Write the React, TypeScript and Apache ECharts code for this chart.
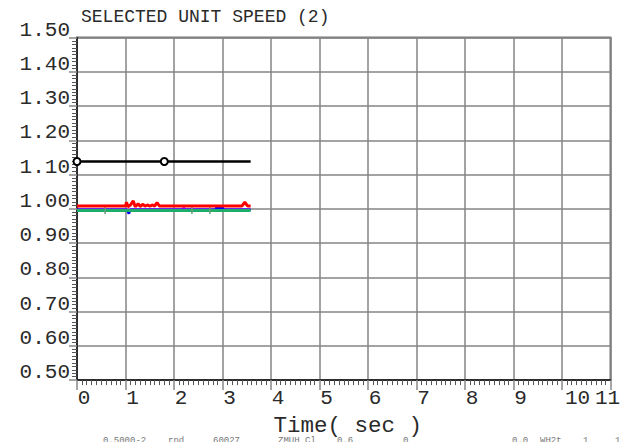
import React, { useEffect, useRef } from "react";
import * as echarts from "echarts";

const titleText = "SELECTED UNIT SPEED (2)";
const xAxisName = "Time( sec )";
const xMin = 0;
const xMax = 11;
const yMin = 0.5;
const yMax = 1.5;

// black reference line (with open circle markers)
const blackX = [0, 1.8, 3.58];
const blackY = [1.138, 1.138, 1.138];
const blackMarker = [true, true, false];

// red trace
const redX = [0, 1.0, 1.02, 1.05, 1.1, 1.16, 1.2, 1.26, 1.3, 1.36, 1.4, 1.46, 1.5, 1.56, 1.6, 1.65, 1.7, 3.4, 3.46, 3.52, 3.58];
const redY = [1.008, 1.008, 1.019, 1.006, 1.011, 1.023, 1.006, 1.015, 1.007, 1.013, 1.008, 1.011, 1.008, 1.011, 1.008, 1.018, 1.008, 1.008, 1.019, 1.008, 1.008];

// green trace
const greenX = [0, 0.58, 2.37, 2.74, 3.58];
const greenY = [0.995, 0.995, 0.995, 0.995, 0.995];
const greenMarker = [false, true, true, true, false];

// blue trace
const blueX = [0, 1.03, 1.07, 1.1, 2.86, 2.88, 2.91, 2.94, 2.97, 3.0, 3.02, 3.58];
const blueY = [0.997, 0.997, 0.986, 0.997, 0.997, 1.006, 0.992, 1.006, 0.992, 1.006, 0.997, 0.997];

// magenta trace
const magentaX = [0, 2.18, 2.2, 2.22, 3.58];
const magentaY = [0.998, 0.998, 1.006, 0.998, 0.998];

const footerTexts = ["0.5000-2", "rnd", "60027", "ZMUH Cl", "0.6", "0", "0.0", "WH2t", "1", "1"];
const footerX = [103, 168, 213, 278, 337, 403, 512, 540, 583, 615];

const MONO = "'Liberation Mono', 'Courier New', 'DejaVu Sans Mono', monospace";
const TXT = "#2a2a2a";

function pairs(xs: number[], ys: number[]) {
  return xs.map((x, i) => [x, ys[i]]);
}

export default function App() {
  const ref = useRef<HTMLDivElement>(null);
  useEffect(() => {
    if (!ref.current) return;
    const chart = echarts.init(ref.current, undefined, { renderer: "svg" });
    const richX: any = {
      s: { padding: [0, 0, 0, 14], fontFamily: MONO, fontSize: 21, color: TXT },
      d: { padding: [0, 0, 0, 31], fontFamily: MONO, fontSize: 21, color: TXT },
      e: { padding: [0, 6, 0, 0], fontFamily: MONO, fontSize: 21, color: TXT },
    };
    chart.setOption({
      animation: false,
      backgroundColor: "#ffffff",
      title: {
        text: titleText,
        left: 76,
        top: 3,
        textStyle: { fontFamily: MONO, fontSize: 18, fontWeight: "normal", color: TXT },
      },
      grid: {
        left: 77,
        top: 37.5,
        right: 21.5,
        bottom: 56,
        show: true,
        borderColor: "#777",
        borderWidth: 2,
        backgroundColor: "transparent",
      },
      xAxis: {
        type: "value",
        min: xMin,
        max: xMax,
        interval: 1,
        name: xAxisName,
        nameLocation: "middle",
        nameGap: 21,
        nameTextStyle: { fontFamily: MONO, fontSize: 22.5, lineHeight: 20, color: TXT, padding: [0, 0, 0, 8] },
        axisLine: { show: true, onZero: false, lineStyle: { color: "#111", width: 1.5 } },
        axisTick: { show: true, length: 10, lineStyle: { color: "#888", width: 1.5 } },
        minorTick: { show: true, splitNumber: 10, length: 5, lineStyle: { color: "#555", width: 1 } },
        splitLine: { show: true, lineStyle: { color: "#858585", width: 1.5 } },
        axisLabel: {
          margin: 8,
          align: "center",
          fontFamily: MONO,
          fontSize: 21,
          color: TXT,
          showMinLabel: true,
          showMaxLabel: true,
          formatter: (v: number) => {
            const s = String(Math.round(v));
            if (v === xMax) return "{e|" + s + "}";
            if (s.length > 1) return "{d|" + s + "}";
            return "{s|" + s + "}";
          },
          rich: richX,
        },
      },
      yAxis: {
        type: "value",
        min: yMin,
        max: yMax,
        interval: 0.1,
        axisLine: { show: true, onZero: false, lineStyle: { color: "#111", width: 1.5 } },
        axisTick: { show: true, length: 8, lineStyle: { color: "#888", width: 1.5 } },
        minorTick: { show: true, splitNumber: 10, length: 5, lineStyle: { color: "#555", width: 1 } },
        splitLine: { show: true, lineStyle: { color: "#858585", width: 1.5 } },
        axisLabel: {
          margin: 7,
          fontFamily: MONO,
          fontSize: 21,
          color: TXT,
          verticalAlign: "bottom",
          lineHeight: 15,
          formatter: (v: number) => v.toFixed(2),
        },
      },
      series: [
        {
          type: "line",
          name: "magenta",
          data: pairs(magentaX, magentaY),
          showSymbol: false,
          lineStyle: { color: "#ff00ff", width: 2 },
          z: 2,
        },
        {
          type: "line",
          name: "blue",
          data: pairs(blueX, blueY),
          showSymbol: false,
          lineStyle: { color: "#0000ff", width: 2.5 },
          z: 3,
        },
        {
          type: "line",
          name: "green",
          data: greenX.map((x, i) => ({
            value: [x, greenY[i]],
            symbol: greenMarker[i] ? "rect" : "none",
            symbolSize: [1.5, 7],
          })),
          showSymbol: true,
          itemStyle: { color: "#6a9a7a" },
          lineStyle: { color: "#1fae6a", width: 3 },
          z: 4,
        },
        {
          type: "line",
          name: "red",
          data: pairs(redX, redY),
          showSymbol: false,
          lineStyle: { color: "#ff0000", width: 3 },
          z: 5,
        },
        {
          type: "line",
          name: "black",
          data: blackX.map((x, i) => ({
            value: [x, blackY[i]],
            symbol: blackMarker[i] ? "emptyCircle" : "none",
            symbolSize: 7,
          })),
          showSymbol: true,
          itemStyle: { color: "#000", borderColor: "#000", borderWidth: 1.3 },
          lineStyle: { color: "#000", width: 2.5 },
          z: 6,
        },
      ],
      graphic: footerTexts.map((t, i) => ({
        type: "text",
        left: footerX[i],
        top: 436,
        style: { text: t, fontFamily: MONO, fontSize: 9, fill: "#777" },
        silent: true,
      })),
    });
    return () => chart.dispose();
  }, []);
  return (
    <div
      ref={ref}
      style={{ position: "fixed", left: 0, top: 0, width: 632, height: 442, background: "#fff" }}
    />
  );
}
